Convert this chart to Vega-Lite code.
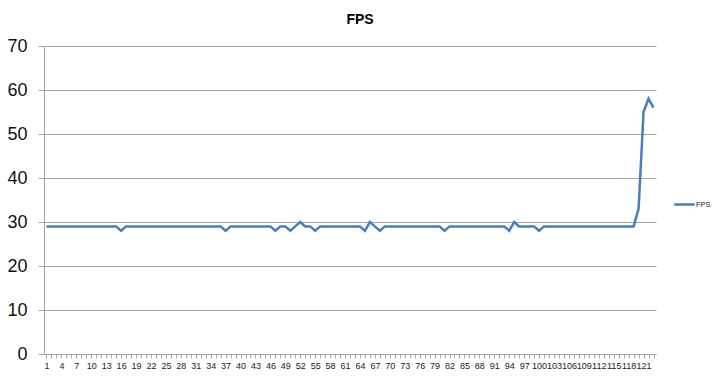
{
  "$schema": "https://vega.github.io/schema/vega-lite/v6.json",
  "width": 612,
  "height": 308,
  "autosize": "none",
  "padding": {"left": 44, "top": 46, "right": 64, "bottom": 26},
  "background": "white",
  "title": {"text": "FPS", "fontSize": 14, "fontWeight": "bold", "font": "Liberation Sans", "color": "#000000", "anchor": "middle", "dx": 10, "offset": 10},
  "data": {"values": [
    {"x":1,"v":29},{"x":2,"v":29},{"x":3,"v":29},{"x":4,"v":29},{"x":5,"v":29},{"x":6,"v":29},{"x":7,"v":29},{"x":8,"v":29},{"x":9,"v":29},{"x":10,"v":29},
    {"x":11,"v":29},{"x":12,"v":29},{"x":13,"v":29},{"x":14,"v":29},{"x":15,"v":29},{"x":16,"v":28},{"x":17,"v":29},{"x":18,"v":29},{"x":19,"v":29},{"x":20,"v":29},
    {"x":21,"v":29},{"x":22,"v":29},{"x":23,"v":29},{"x":24,"v":29},{"x":25,"v":29},{"x":26,"v":29},{"x":27,"v":29},{"x":28,"v":29},{"x":29,"v":29},{"x":30,"v":29},
    {"x":31,"v":29},{"x":32,"v":29},{"x":33,"v":29},{"x":34,"v":29},{"x":35,"v":29},{"x":36,"v":29},{"x":37,"v":28},{"x":38,"v":29},{"x":39,"v":29},{"x":40,"v":29},
    {"x":41,"v":29},{"x":42,"v":29},{"x":43,"v":29},{"x":44,"v":29},{"x":45,"v":29},{"x":46,"v":29},{"x":47,"v":28},{"x":48,"v":29},{"x":49,"v":29},{"x":50,"v":28},
    {"x":51,"v":29},{"x":52,"v":30},{"x":53,"v":29},{"x":54,"v":29},{"x":55,"v":28},{"x":56,"v":29},{"x":57,"v":29},{"x":58,"v":29},{"x":59,"v":29},{"x":60,"v":29},
    {"x":61,"v":29},{"x":62,"v":29},{"x":63,"v":29},{"x":64,"v":29},{"x":65,"v":28},{"x":66,"v":30},{"x":67,"v":29},{"x":68,"v":28},{"x":69,"v":29},{"x":70,"v":29},
    {"x":71,"v":29},{"x":72,"v":29},{"x":73,"v":29},{"x":74,"v":29},{"x":75,"v":29},{"x":76,"v":29},{"x":77,"v":29},{"x":78,"v":29},{"x":79,"v":29},{"x":80,"v":29},
    {"x":81,"v":28},{"x":82,"v":29},{"x":83,"v":29},{"x":84,"v":29},{"x":85,"v":29},{"x":86,"v":29},{"x":87,"v":29},{"x":88,"v":29},{"x":89,"v":29},{"x":90,"v":29},
    {"x":91,"v":29},{"x":92,"v":29},{"x":93,"v":29},{"x":94,"v":28},{"x":95,"v":30},{"x":96,"v":29},{"x":97,"v":29},{"x":98,"v":29},{"x":99,"v":29},{"x":100,"v":28},
    {"x":101,"v":29},{"x":102,"v":29},{"x":103,"v":29},{"x":104,"v":29},{"x":105,"v":29},{"x":106,"v":29},{"x":107,"v":29},{"x":108,"v":29},{"x":109,"v":29},{"x":110,"v":29},
    {"x":111,"v":29},{"x":112,"v":29},{"x":113,"v":29},{"x":114,"v":29},{"x":115,"v":29},{"x":116,"v":29},{"x":117,"v":29},{"x":118,"v":29},{"x":119,"v":29},{"x":120,"v":33},
    {"x":121,"v":55},{"x":122,"v":58},{"x":123,"v":56}
  ]},
  "mark": {"type": "line", "strokeWidth": 2.5},
  "encoding": {
    "x": {
      "field": "x", "type": "ordinal", "sort": null,
      "scale": {"type": "point", "padding": 0.5},
      "axis": {
        "title": null,
        "labelAngle": 0,
        "labelOverlap": false,
        "labelBound": false,
        "labelExpr": "(datum.value - 1) % 3 == 0 ? datum.label : ''",
        "labelFont": "Liberation Sans",
        "labelFontSize": 9,
        "labelColor": "#222222",
        "labelPadding": 3,
        "tickSize": 4,
        "tickColor": "#a6a6a6",
        "domainColor": "#a6a6a6",
        "grid": false
      }
    },
    "y": {
      "field": "v", "type": "quantitative",
      "scale": {"domain": [0, 70], "nice": false, "zero": true},
      "axis": {
        "title": null,
        "values": [0, 10, 20, 30, 40, 50, 60, 70],
        "labelFont": "Liberation Sans",
        "labelFontSize": 18,
        "labelColor": "#111111",
        "labelPadding": 11,
        "tickSize": 6,
        "tickColor": "#a6a6a6",
        "domainColor": "#a6a6a6",
        "grid": true,
        "gridColor": "#a6a6a6",
        "gridWidth": 1
      }
    },
    "color": {
      "datum": "FPS", "type": "nominal",
      "scale": {"range": ["#4a7ebb"]},
      "legend": {
        "title": null,
        "orient": "none",
        "legendX": 629,
        "legendY": 147,
        "symbolType": "stroke",
        "symbolSize": 420,
        "symbolStrokeWidth": 2.5,
        "labelFont": "Liberation Sans",
        "labelFontSize": 7.5,
        "labelColor": "#222222",
        "labelOffset": 0
      }
    }
  },
  "config": {"view": {"stroke": null}}
}
